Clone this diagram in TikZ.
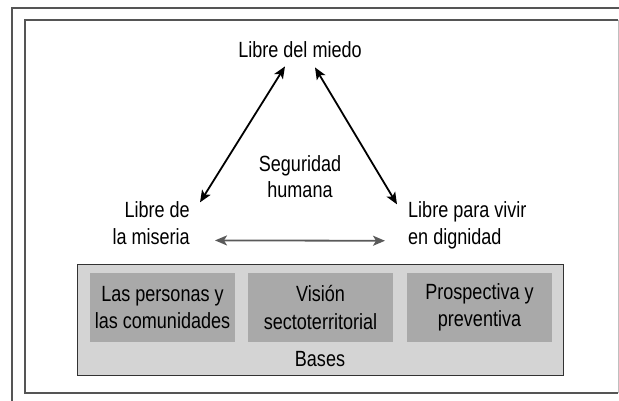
\documentclass[tikz,border=0pt]{standalone}
\usepackage{fontspec}
\setmainfont[FakeStretch=0.82]{Liberation Sans}
\usepackage{tikz}
\usetikzlibrary{arrows.meta, positioning}
\definecolor{framegray}{HTML}{555555}
\definecolor{basefill}{HTML}{D4D4D4}
\definecolor{boxfill}{HTML}{A9A9A9}
\definecolor{arrowgray}{HTML}{5A5A5A}
\tikzset{>={Stealth[length=12pt,width=10pt,inset=3pt]}}
\tikzset{txt/.style={font=\fontsize{22}{27}\selectfont,inner sep=0pt},
  basebox/.style={rectangle,fill=boxfill,minimum width=145pt,minimum height=69pt,align=center,font=\fontsize{22}{27.5}\selectfont,inner sep=0pt}}

\begin{document}
\begin{tikzpicture}[x=1pt,y=-1pt]
      \useasboundingbox (0,0) rectangle (619,401);
      % marcos
      \draw[framegray,line width=2pt] (12,401) -- (12,8) -- (619,8);
      \draw[framegray,line width=2pt] (618,393) -- (25,393) -- (25,20) -- (618,20);
      \draw[black!25,line width=1pt] (618,20) -- (618,393);
      % triangulo
      \node (miedo) at (300,58)[txt,anchor=base] {Libre del miedo};
      \node (segur) at (300,198)[txt,anchor=base,align=center] {Seguridad\\humana};
      \node (miseria) at (190,244)[txt,anchor=base east,align=right] {Libre de\\la miseria};
      \node (vivir) at (408,244)[txt,anchor=base west,align=left] {Libre para vivir\\en dignidad};
        \draw [<->,line width=1.8pt] ([shift={(10,1.5)}]miseria.north east) -- ([shift={(-15,8)}]miedo.south);
        \draw [<->,line width=1.8pt] ([shift={(-11,3.5)}]vivir.north west) -- ([shift={(15,9)}]miedo.south);
        \draw [<->,arrowgray,line width=1.8pt] ([shift={(25,-4)}]miseria.south east) -- ([shift={(-23,-8)}]vivir.south west);
      % bases
      \node (bases) at (320,319.5)[rectangle,draw=black!80,fill=basefill,minimum width=486pt,minimum height=111pt,line width=1pt] {};
      \node (b1) at (162.5,307.5)[basebox] {Las personas y\\las comunidades};
      \node (b2) at (320.5,307.5)[basebox] {Visión\\sectoterritorial};
      \node (b3) at (479.5,307.5)[basebox] {Prospectiva y\\preventiva};
      \node (btxt) at (320,366)[txt,anchor=base] {Bases};
\end{tikzpicture}
\end{document}
